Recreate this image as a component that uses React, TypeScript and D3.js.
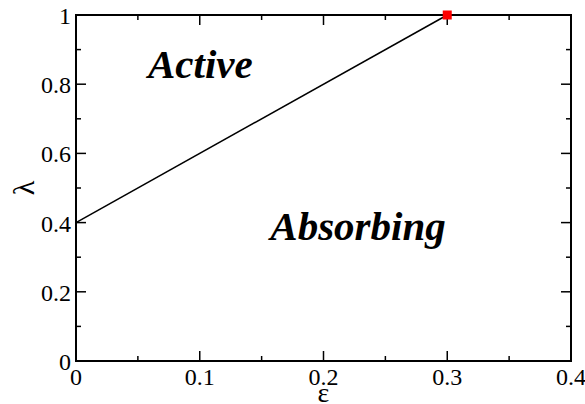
import React, { useEffect, useRef } from 'react';
import * as d3 from 'd3';

const xTicks = [0, 0.1, 0.2, 0.3, 0.4];
const yTicks = [0, 0.2, 0.4, 0.6, 0.8, 1];
const xMinor = [0.05, 0.15, 0.25, 0.35];
const yMinor = [0.1, 0.3, 0.5, 0.7, 0.9];

// phase boundary
const boundaryEps = [0, 0.3];
const boundaryLambda = [0.4, 1];
// critical point
const pointEps = [0.3];
const pointLambda = [1];

const regionLabels = ['Active', 'Absorbing'];
const regionEps = [0.0582, 0.157];
const regionLambda = [0.818, 0.35];

const FONT = "'Liberation Serif', 'Times New Roman', serif";

const App = () => {
  const svgRef = useRef<SVGSVGElement>(null);

  useEffect(() => {
    const W = 585;
    const H = 404;
    const margin = { top: 15, right: 14, bottom: 43, left: 76 };
    const width = W - margin.left - margin.right;
    const height = H - margin.top - margin.bottom;

    const root = d3.select(svgRef.current);
    root.selectAll('*').remove();
    root.append('rect').attr('width', W).attr('height', H).attr('fill', '#fff');

    const svg = root.append('g')
      .attr('transform', `translate(${margin.left},${margin.top})`);

    const x = d3.scaleLinear().domain([0, 0.4]).range([0, width]);
    const y = d3.scaleLinear().domain([0, 1]).range([height, 0]);

    // boundary line
    const line = d3.line<number>()
      .x((_, i) => x(boundaryEps[i]))
      .y((d) => y(d));
    svg.append('path')
      .datum(boundaryLambda)
      .attr('d', line)
      .attr('fill', 'none')
      .attr('stroke', '#000')
      .attr('stroke-width', 1.5);

    // ticks (inward, all four sides)
    const tick = (x1: number, y1: number, x2: number, y2: number) =>
      svg.append('line').attr('x1', x1).attr('y1', y1).attr('x2', x2).attr('y2', y2)
        .attr('stroke', '#000').attr('stroke-width', 1.5);
    xTicks.forEach((t) => { tick(x(t), height, x(t), height - 10); tick(x(t), 0, x(t), 10); });
    xMinor.forEach((t) => { tick(x(t), height, x(t), height - 5); tick(x(t), 0, x(t), 5); });
    yTicks.forEach((t) => { tick(0, y(t), 10, y(t)); tick(width, y(t), width - 10, y(t)); });
    yMinor.forEach((t) => { tick(0, y(t), 5, y(t)); tick(width, y(t), width - 5, y(t)); });

    // frame
    svg.append('rect')
      .attr('width', width).attr('height', height)
      .attr('fill', 'none').attr('stroke', '#000').attr('stroke-width', 2);

    // critical point
    svg.selectAll('rect.pt')
      .data(pointEps)
      .enter()
      .append('rect')
      .attr('class', 'pt')
      .attr('x', (d) => x(d) - 4.5)
      .attr('y', (_, i) => y(pointLambda[i]) - 4.5)
      .attr('width', 9).attr('height', 9)
      .attr('fill', '#ff0000');

    // tick labels
    svg.selectAll('text.xl')
      .data(xTicks)
      .enter()
      .append('text')
      .attr('class', 'xl')
      .attr('x', (d) => x(d))
      .attr('y', height + 24)
      .attr('text-anchor', 'middle')
      .attr('font-size', 24)
      .text((d) => String(d));

    svg.selectAll('text.yl')
      .data(yTicks)
      .enter()
      .append('text')
      .attr('class', 'yl')
      .attr('x', -5)
      .attr('y', (d) => y(d) + 9)
      .attr('text-anchor', 'end')
      .attr('font-size', 24)
      .text((d) => String(d));

    // axis titles
    svg.append('text')
      .attr('x', x(0.2))
      .attr('y', height + 41)
      .attr('text-anchor', 'middle')
      .attr('font-size', 28)
      .text('ε');
    svg.append('text')
      .attr('transform', `translate(${-42},${y(0.5)}) rotate(-90)`)
      .attr('text-anchor', 'middle')
      .attr('font-size', 30)
      .text('λ');

    // region labels
    svg.selectAll('text.region')
      .data(regionLabels)
      .enter()
      .append('text')
      .attr('class', 'region')
      .attr('x', (_, i) => x(regionEps[i]))
      .attr('y', (_, i) => y(regionLambda[i]))
      .attr('font-size', 41)
      .attr('font-weight', 'bold')
      .attr('font-style', 'italic')
      .text((d) => d);
  }, []);

  return (
    <svg
      ref={svgRef}
      width={585}
      height={404}
      fontFamily={FONT}
      style={{ position: 'absolute', left: 0, top: 0, fontFamily: FONT }}
    ></svg>
  );
};

export default App;
